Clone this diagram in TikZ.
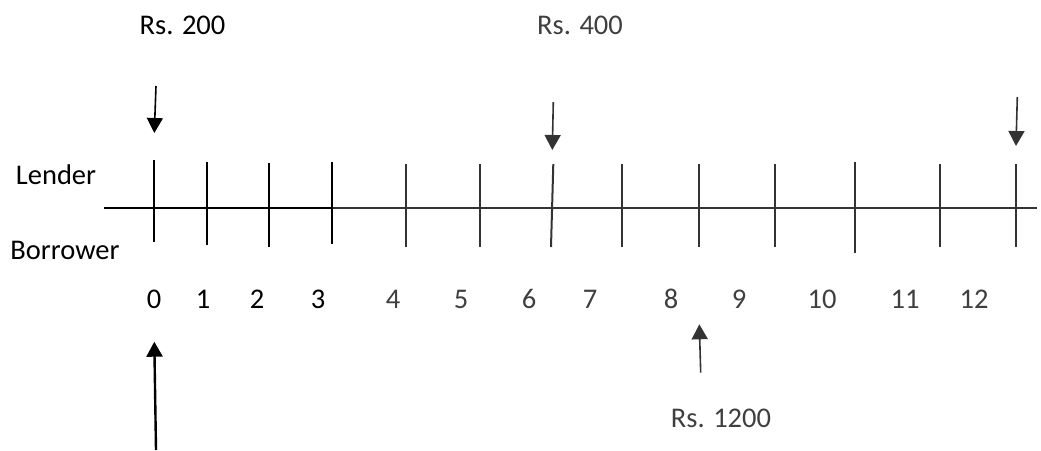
\documentclass[tikz,border=0pt]{standalone}
\usepackage{fontspec}
\setmainfont{Carlito}
\usetikzlibrary{arrows.meta}
\definecolor{ink}{HTML}{000000}
\definecolor{softink}{HTML}{333333}
\definecolor{numgray}{HTML}{3F3F3F}
\begin{document}
\begin{tikzpicture}[x=1pt,y=-1pt,
  lbl/.style={font=\fontsize{28.5}{34}\selectfont, inner sep=0pt, anchor=center},
  tick/.style={line width=2pt},
  axis/.style={line width=2pt},
  flow/.style={line width=1.6pt, -{Triangle[width=16pt,length=15pt]}},
  bigflow/.style={line width=2.4pt, -{Triangle[width=16pt,length=15pt]}}]
\useasboundingbox (0,0) rectangle (1041,450);

% labels
\node[lbl, text=ink] (rs200) at (182.5,25) {Rs. 200};
\node[lbl, text=numgray] (rs400) at (580,25) {Rs. 400};
\node[lbl, text=numgray] (rs1200) at (721,418) {Rs. 1200};
\node[lbl, text=ink] (lender) at (56,175) {Lender};
\node[lbl, text=ink] (borrower) at (65,250) {Borrower};

% period numbers
\foreach \n/\x in {0/154,1/203,2/257,3/318}
  \node[lbl, text=ink] (n\n) at (\x,299) {\n};
\foreach \n/\x in {4/393,5/461,6/529,7/590,8/671,9/739,10/822,11/905,12/974}
  \node[lbl, text=numgray] (n\n) at (\x,299) {\n};

% time axis
\coordinate (axL) at (104,208);
\coordinate (axM) at (332,208);
\coordinate (axR) at (1037,208);
\draw[axis, ink] (axL) -- (axM);
\draw[axis, softink] (axM) -- (axR);

% period ticks
\foreach \n/\xt/\xb/\yt/\yb in {0/154.3/154.3/160/242,1/206.7/206.7/162/245,
    2/268.7/268.7/163/247,3/332.3/332.3/162/244}{
  \coordinate (t\n a) at (\xt,\yt);
  \coordinate (t\n b) at (\xb,\yb);
  \draw[tick, ink] (t\n a) -- (t\n b);
}
\foreach \n/\xt/\xb/\yt/\yb in {4/406.3/406.3/164/247,5/480/480/164/247,
    6/553.3/551/164/247,7/621.7/621.7/164/247,8/699/699/164/247,
    9/774.7/774.7/164/247,10/855/855/162/253,11/940/940/164/247,
    12/1015.7/1015.7/164/247}{
  \coordinate (t\n a) at (\xt,\yt);
  \coordinate (t\n b) at (\xb,\yb);
  \draw[tick, softink] (t\n a) -- (t\n b);
}

% cash flows
\coordinate (f200a) at (156,86);
\coordinate (f200b) at (154.3,133);
\draw[flow, ink] (f200a) -- (f200b);

\coordinate (f400a) at (553.3,102);
\coordinate (f400b) at (552.3,150);
\draw[flow, softink] (f400a) -- (f400b);

\coordinate (fendA) at (1017.3,97);
\coordinate (fendB) at (1016,146);
\draw[flow, softink] (fendA) -- (fendB);

\coordinate (floanA) at (156,450);
\coordinate (floanB) at (154.3,341.7);
\draw[bigflow, ink] (floanA) -- (floanB);

\coordinate (f1200a) at (700.7,372.7);
\coordinate (f1200b) at (699.3,324.3);
\draw[flow, softink] (f1200a) -- (f1200b);
\end{tikzpicture}
\end{document}
